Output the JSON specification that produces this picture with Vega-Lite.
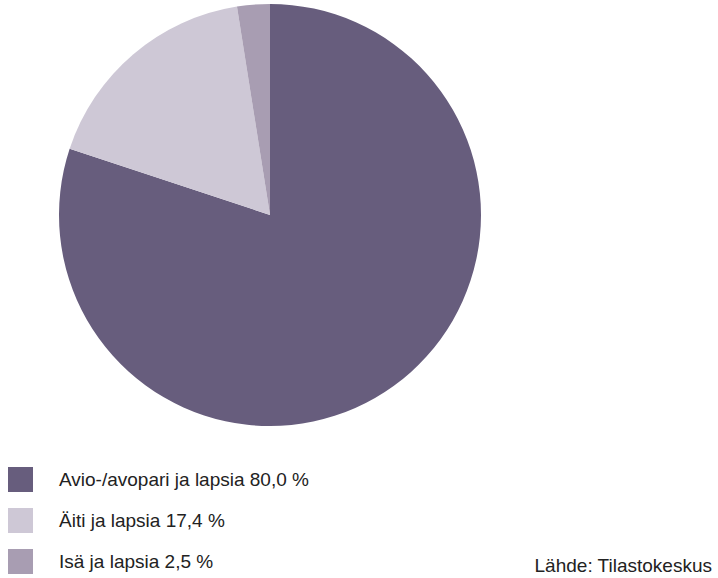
{
  "$schema": "https://vega.github.io/schema/vega-lite/v6.json",
  "width": 540,
  "height": 430,
  "autosize": {"type": "none"},
  "padding": {"left": 0, "top": 0, "right": 178, "bottom": 148},
  "background": "white",
  "config": {"view": {"stroke": null}},
  "title": {
    "text": "Lähde: Tilastokeskus",
    "orient": "bottom",
    "anchor": "end",
    "frame": "group",
    "dx": 172,
    "offset": -17,
    "font": "Liberation Sans",
    "fontSize": 19,
    "fontWeight": "normal",
    "color": "#222222"
  },
  "data": {
    "values": [
      {"category": "Avio-/avopari ja lapsia 80,0 %", "value": 80.0, "order": 1},
      {"category": "Äiti ja lapsia 17,4 %", "value": 17.4, "order": 2},
      {"category": "Isä ja lapsia 2,5 %", "value": 2.5, "order": 3}
    ]
  },
  "mark": {"type": "arc", "outerRadius": 211, "stroke": null},
  "encoding": {
    "theta": {"field": "value", "type": "quantitative", "stack": true},
    "order": {"field": "order", "type": "quantitative"},
    "color": {
      "field": "category",
      "type": "nominal",
      "scale": {
        "domain": ["Avio-/avopari ja lapsia 80,0 %", "Äiti ja lapsia 17,4 %", "Isä ja lapsia 2,5 %"],
        "range": ["#675D7D", "#CEC8D6", "#A89DB2"]
      },
      "legend": {
        "title": null,
        "orient": "none",
        "legendX": 8,
        "legendY": 467,
        "symbolType": "square",
        "symbolSize": 625,
        "symbolStrokeWidth": 0,
        "symbolOpacity": 1,
        "labelFont": "Liberation Sans",
        "labelFontSize": 19,
        "labelColor": "#222222",
        "labelOffset": 26,
        "rowPadding": 16,
        "labelLimit": 400
      }
    }
  }
}
